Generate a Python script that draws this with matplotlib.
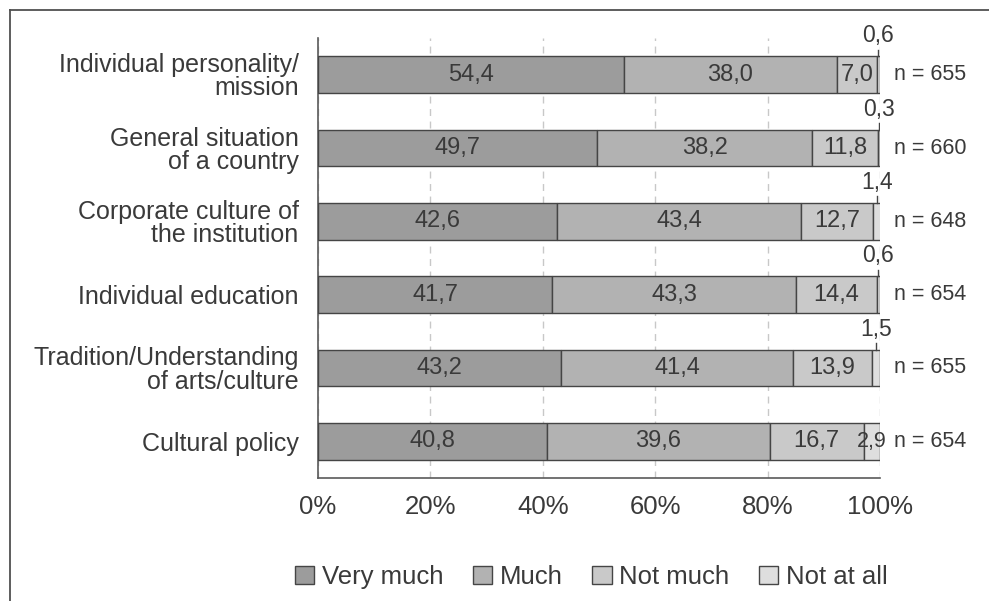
import numpy as np
import matplotlib.pyplot as plt
from matplotlib.lines import Line2D

plt.rcParams['font.family'] = ['Liberation Sans', 'DejaVu Sans']

categories = ['Individual personality/\nmission', 'General situation\nof a country',
              'Corporate culture of\nthe institution', 'Individual education',
              'Tradition/Understanding\nof arts/culture', 'Cultural policy']
very_much = [54.4, 49.7, 42.6, 41.7, 43.2, 40.8]
much = [38.0, 38.2, 43.4, 43.3, 41.4, 39.6]
not_much = [7.0, 11.8, 12.7, 14.4, 13.9, 16.7]
not_at_all = [0.6, 0.3, 1.4, 0.6, 1.5, 2.9]
n_resp = [655, 660, 648, 654, 655, 654]

series = [very_much, much, not_much, not_at_all]
names = ['Very much', 'Much', 'Not much', 'Not at all']
colors = ['#9c9c9c', '#b2b2b2', '#c9c9c9', '#dedede']
txt = '#3a3a3a'
edge = '#454545'

fig = plt.figure(figsize=(9.89, 6.01), dpi=100)
ax = fig.add_axes([0.3215, 0.2047, 0.5683, 0.732])

y = np.arange(len(categories))
left = np.zeros(len(categories))
for vals, name, col in zip(series, names, colors):
    vals = np.array(vals)
    ax.barh(y, vals, left=left, height=0.5, color=col, edgecolor=edge,
            linewidth=1.0, label=name, zorder=3)
    for i, v in enumerate(vals):
        lab = f'{v:.1f}'.replace('.', ',')
        if v >= 2:
            fs = 17 if v >= 5 else 15.5
            ax.text(left[i] + v / 2, y[i], lab, ha='center', va='center',
                    fontsize=fs, color=txt, zorder=4)
        else:
            xm = left[i] + v / 2
            ax.plot([xm, xm], [y[i] - 0.25, y[i] - 0.34], color=edge, lw=1, zorder=4)
            ax.text(xm, y[i] - 0.53, lab, ha='center', va='center',
                    fontsize=16.5, color=txt, zorder=4)
    left += vals

for i, n in enumerate(n_resp):
    ax.text(102.4, y[i], f'n = {n}', ha='left', va='center', fontsize=15.5, color=txt)

ax.set_xlim(0, 100)
ax.set_ylim(5.5, -0.5)
ax.set_yticks(y)
ax.set_yticklabels(categories, fontsize=18, color=txt, linespacing=0.95)
ax.set_xticks([0, 20, 40, 60, 80, 100])
ax.set_xticklabels(['0%', '20%', '40%', '60%', '80%', '100%'], fontsize=18.5, color=txt)
ax.tick_params(axis='x', length=0, pad=12)
ax.tick_params(axis='y', length=0, pad=14)
for lbl in ax.get_yticklabels():
    lbl.set_horizontalalignment('right')
    lbl.set_multialignment('right')

ax.xaxis.grid(True, linestyle=(0, (5, 4)), color='#c8c8c8', lw=1, zorder=0)
ax.set_axisbelow(True)
for s in ['top', 'right']:
    ax.spines[s].set_visible(False)
for s in ['left', 'bottom']:
    ax.spines[s].set_color('#5a5a5a')
    ax.spines[s].set_linewidth(1.2)

fig.legend(loc='center', bbox_to_anchor=(0.598, 0.04), ncol=4, frameon=False,
           fontsize=18.5, handlelength=0.75, handleheight=0.75, handletextpad=0.3,
           columnspacing=1.15, labelcolor=txt)

# outer border
fig.add_artist(Line2D([0.0101, 0.0101], [0.0, 0.983], transform=fig.transFigure,
                      color='#505050', lw=1.3))
fig.add_artist(Line2D([0.0101, 1.0], [0.983, 0.983], transform=fig.transFigure,
                      color='#505050', lw=1.3))

fig.savefig('out.png', dpi=100)
